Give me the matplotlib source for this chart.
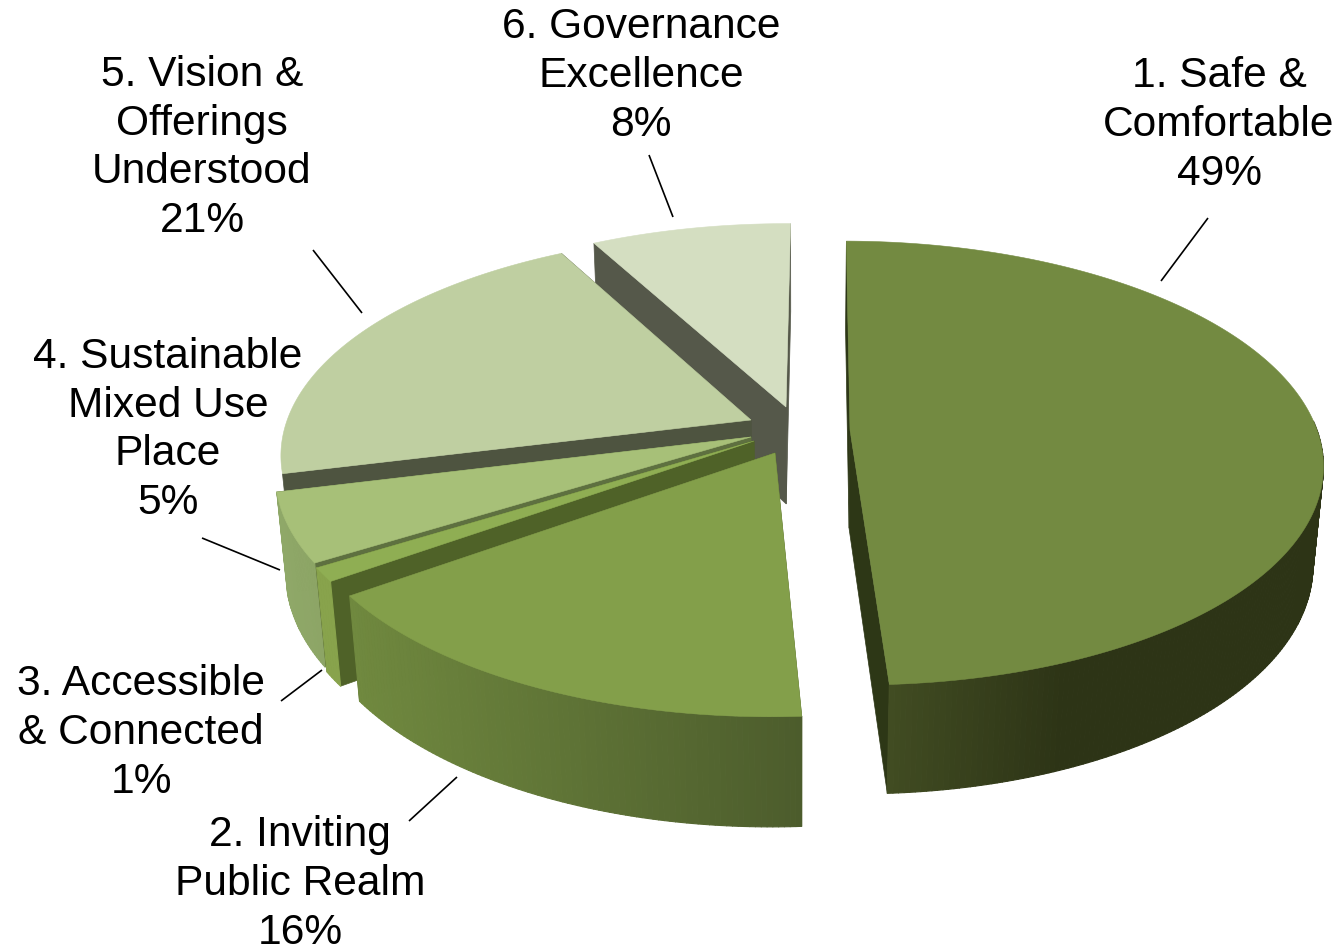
import numpy as np
import matplotlib
matplotlib.use("Agg")
import matplotlib.pyplot as plt
from matplotlib.colors import to_rgb
from matplotlib.patches import Polygon
from matplotlib.collections import PolyCollection

plt.rcParams['font.family'] = ['Liberation Sans', 'DejaVu Sans']

names = ["1. Safe &\nComfortable", "2. Inviting\nPublic Realm", "3. Accessible\n& Connected",
         "4. Sustainable\nMixed Use\nPlace", "5. Vision &\nOfferings\nUnderstood", "6. Governance\nExcellence"]
values = [49, 16, 1, 5, 21, 8]

top_colors = ["#738a41", "#839f4a", "#8fae53", "#a7c078", "#bfcfa1", "#d4dec1"]
face_colors = ["#2d3716", "#4f6128", "#4f6228", "#5e7040", "#4e5440", "#55584a"]
wall_left = ["#414c22", "#70893f", "#88a34c", "#8fa868", "#a0b085", "#b0b8a0"]
wall_right = ["#2d3416", "#4c5c2c", "#88a34c", "#8da566", "#a0b085", "#b0b8a0"]

# where each exploded slice has its tip, in figure pixels
tips = [(850, 430), (775, 453), (754, 441), (751, 437), (751, 420), (786, 407)]

label_pos = [(1219, 125), (300, 884), (141, 733), (168, 430), (202, 148), (641, 76)]
leaders = [((1208, 218), (1161, 281)), ((409, 821), (457, 777)), ((281, 701), (322, 670)),
           ((202, 538), (280, 570)), ((313, 250), (362, 313)), ((649, 155), (673, 217))]

# camera
cx, cy = 800, 430
R, Ry, H = 467, 217, 100
k, m = 0.1487, 0.02
rotation = np.radians(0.4)


def project(X, Y, Z=0.0):
    w = 1 - k * Y + m * Z
    return cx + R * X / w, cy + (Ry * Y + H * Z) / w


def unproject(px, py):
    sy = py - cy
    Y = sy / (Ry + k * sy)
    return (px - cx) * (1 - k * Y) / R, Y


def blend(c1, c2, t):
    a, b = np.array(to_rgb(c1)), np.array(to_rgb(c2))
    return tuple(a + (b - a) * t)


fig = plt.figure(figsize=(13.42, 9.5), dpi=100)
ax = fig.add_axes([0, 0, 1, 1])
ax.set_xlim(0, 1342)
ax.set_ylim(950, 0)
ax.axis("off")

edges = np.cumsum([0] + values) / sum(values) * 2 * np.pi + rotation


def draw_slice(i, zorder):
    ox, oy = unproject(*tips[i])
    t = np.linspace(edges[i], edges[i + 1], max(6, values[i] * 6))
    X = ox + np.sin(t)
    Y = oy - np.cos(t)
    tx, ty = project(X, Y)
    bx, by = project(X, Y, 1.0)
    ax0, ay0 = project(ox, oy)
    bx0, by0 = project(ox, oy, 1.0)

    # the two cut faces
    for j in (0, -1):
        pts = [(ax0, ay0), (tx[j], ty[j]), (bx[j], by[j]), (bx0, by0)]
        ax.add_patch(Polygon(pts, closed=True, fc=face_colors[i], ec=face_colors[i], lw=0.5, zorder=zorder))

    # outer wall, front half only, shaded from left to right
    # slice 5 sits behind slice 4, so its wall would only spill over its own face
    quads, cols = [], []
    front = -np.cos(t) > -0.05
    xlo, xhi = bx[front].min() if front.any() else 0, bx[front].max() if front.any() else 1
    for j in range(len(t) - 1):
        if not (front[j] and front[j + 1]) or i == 4:
            continue
        quads.append([(tx[j], ty[j]), (tx[j + 1], ty[j + 1]), (bx[j + 1], by[j + 1]), (bx[j], by[j])])
        f = (0.5 * (bx[j] + bx[j + 1]) - xlo) / max(xhi - xlo, 1)
        if i == 0:
            f = min(1, f * 2.5)
        cols.append(blend(wall_left[i], wall_right[i], f))
    ax.add_collection(PolyCollection(quads, facecolors=cols, edgecolors=cols, linewidths=0.8, zorder=zorder + 0.1))

    # top
    pts = [(ax0, ay0)] + list(zip(tx, ty))
    ax.add_patch(Polygon(pts, closed=True, fc=top_colors[i], ec=top_colors[i], lw=0.4, zorder=zorder + 0.2))


# back to front
for n, i in enumerate([5, 4, 3, 2, 1, 0]):
    draw_slice(i, 2 + n)

for (p0, p1) in leaders:
    ax.plot([p0[0], p1[0]], [p0[1], p1[1]], color="black", lw=1.2, solid_capstyle="butt", zorder=20)

for name, v, (x, y) in zip(names, values, label_pos):
    ax.text(x, y, f"{name}\n{v}%", ha="center", va="center", fontsize=30.6, color="black",
            linespacing=1.285, zorder=21)

fig.savefig("out.png", dpi=100, facecolor="white")
